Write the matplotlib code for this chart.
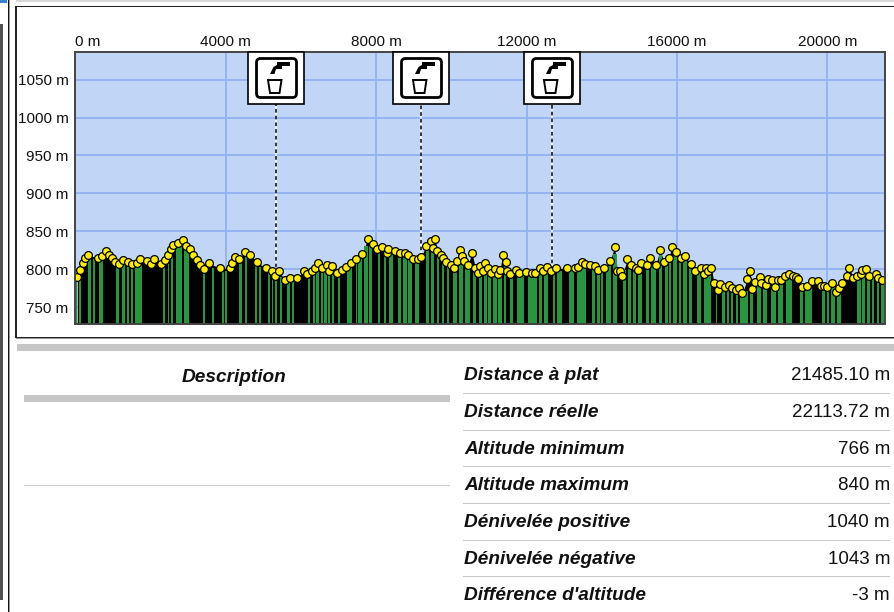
import numpy as np
import matplotlib
matplotlib.use("Agg")
import matplotlib.pyplot as plt
from matplotlib.patches import Rectangle, FancyBboxPatch, Polygon
from matplotlib.transforms import Affine2D

dist = [49,120,191,253,341,607,696,811,900,962,1051,1166,1273,1387,1494,1627,1716,1893,2000,2088,2274,2380,2451,2531,2602,2717,2850,2938,3045,3133,3240,3311,3417,3541,3843,4109,4153,4242,4357,4508,4641,4836,5066,5217,5306,5404,5572,5705,5882,
6077,6148,6281,6370,6458,6547,6680,6751,6831,6946,7079,7194,7327,7460,7620,7771,7921,8010,8143,8276,8320,8497,8631,8763,8852,8985,9118,9189,9322,9446,9499,9561,9623,9712,9783,9845,9978,10075,10155,10235,10279,10341,10430,10545,10634,10696,10767,10838,10900,10971,11051,11157,11246,11290,11361,11450,11467,11556,11707,11795,11981,12132,12221,12354,12442,12531,12638,12771,13063,13284,13355,13480,13550,13684,13817,13887,
14056,14216,14340,14411,14481,14535,14677,14765,14898,14960,15031,15191,15279,15430,15545,15652,15785,15856,15980,16095,16201,16370,16476,16627,16715,16760,16822,16910,16981,17088,17141,17265,17380,17469,17558,17655,17735,17868,17930,18001,18072,18196,18223,18355,18417,18515,18595,18683,18772,18861,18976,19082,19153,19215,19331,19446,19597,19747,19818,19907,19996,20120,20235,20306,20394,20510,20581,20687,20793,20882,20926,21015,21104,21281,21343,21458]
alt = [790,799,808,815,818,815,817,824,819,815,809,807,812,809,807,808,813,811,807,813,807,812,819,826,832,834,838,831,826,819,812,806,800,808,801,801,808,816,813,822,819,809,801,797,791,798,785,788,788,
797,793,798,802,808,801,806,797,804,795,799,803,808,813,820,840,833,826,829,821,827,824,821,821,818,813,813,816,830,837,828,840,824,819,815,809,806,802,811,825,817,811,805,821,802,795,804,797,808,802,795,800,794,799,819,809,797,793,799,795,796,795,795,801,797,803,798,801,801,801,803,810,807,805,804,799,
801,811,829,798,798,791,813,805,802,799,808,805,815,805,825,810,815,829,823,815,817,807,797,802,793,802,797,802,782,773,780,776,779,775,772,775,768,787,798,774,783,790,782,779,787,785,777,786,785,791,793,791,789,787,777,778,784,784,778,778,776,782,770,775,782,791,802,788,791,793,799,800,791,793,788,786]

stripe_start = [13,84,341,474,625,1086,1246,1361,1476,1574,2336,2451,2531,2673,2886,3400,3630,3905,3985,4339,4508,4774,4889,5111,5217,5306,5430,5625,5767,
6184,6308,6396,6521,6609,6716,6822,6973,7212,7460,7522,7682,7806,8037,8205,8347,8586,8701,8852,9029,9322,9464,9606,9739,9872,10031,10208,10359,10581,10740,10864,10980,11095,11246,11396,11556,11751,12026,12327,12469,12691,12815,13134,13329,13728,13861,
13967,14100,14295,14570,14694,14836,14960,15164,15297,15519,15669,15785,15900,16051,16166,16317,16520,16715,17026,17185,17318,17442,17558,17673,17939,18116,18293,18488,18683,18887,19260,19393,19845,19978,20102,20262,20793,20926,21041,21183,21308,21432]
stripe_end = [49,155,403,519,740,1148,1308,1414,1538,1760,2389,2487,2602,2832,3010,3444,3683,3949,4029,4428,4570,4818,4933,5173,5261,5359,5501,5696,5820,
6237,6361,6476,6574,6680,6769,6884,7035,7363,7496,7629,7771,7895,8099,8258,8453,8657,8808,8941,9136,9402,9535,9659,9801,9943,10155,10315,10492,10643,10811,10935,11042,11201,11334,11450,11645,11928,12265,12416,12575,12753,12930,13258,13568,13817,13950,
14038,14233,14411,14650,14783,14898,15075,15253,15430,15607,15758,15847,16006,16113,16254,16405,16644,16910,17070,17265,17380,17496,17620,17886,18027,18240,18400,18621,18825,19065,19357,19597,19924,20040,20191,20368,20882,20988,21130,21237,21379,21503]

waypoints = [5333, 9189, 12672]
x_ticks = [0, 4000, 8000, 12000, 16000, 20000]
y_ticks = [750, 800, 850, 900, 950, 1000, 1050]
x_labels = ["0 m", "4000 m", "8000 m", "12000 m", "16000 m", "20000 m"]
y_labels = ["750 m", "800 m", "850 m", "900 m", "950 m", "1000 m", "1050 m"]

desc_title = "Description"
stat_names = ["Distance à plat", "Distance réelle", "Altitude minimum", "Altitude maximum",
              "Dénivelée positive", "Dénivelée négative", "Différence d'altitude"]
stat_values = ["21485.10 m", "22113.72 m", "766 m", "840 m", "1040 m", "1043 m", "-3 m"]

W, H = 894, 612
fig = plt.figure(figsize=(W/100, H/100), dpi=100, facecolor="white")

# page furniture, in pixel coordinates
bg = fig.add_axes([0, 0, 1, 1])
bg.set_xlim(0, W); bg.set_ylim(H, 0); bg.axis("off")
def rect(x0, y0, x1, y1, c, z=1):
    bg.add_patch(Rectangle((x0, y0), x1-x0, y1-y0, fc=c, ec="none", zorder=z))
rect(0, 0, 7, 3, "#3a7fd0")
rect(16, 0, W, 2, "#d8d8d8")
rect(0, 24, 2.5, 600, "#505050")
rect(7.5, 0, 9, H, "#111111")
rect(9, 0, 10, H, "#999999")
rect(15, 6, W, 7, "#222222")
rect(15, 6, 16.5, 338, "#222222")
rect(15, 337, W, 338, "#222222")
rect(16, 338, W, 339, "#999999")
rect(17, 344, W, 351, "#c6c6c6")
rect(24, 395, 450, 402, "#c6c6c6")
rect(24, 485, 450, 486, "#cccccc")
for y in [392.5, 429.5, 466, 502.5, 539.5, 576]:
    rect(463, y, 890, y+1, "#c8c8c8")

tf = dict(family="Liberation Sans", color="#111111")
bg.text(234.5, 377, desc_title, ha="center", va="center", fontsize=13.7, weight="bold", style="italic", **tf)
rows_y = [376, 412.5, 449.5, 486, 522.5, 559, 595.5]
for yy, n, v in zip(rows_y, stat_names, stat_values):
    bg.text(464, yy, n, ha="left", va="center", fontsize=13.7, weight="bold", style="italic", **tf)
    bg.text(890, yy, v, ha="right", va="center", fontsize=13.5, **tf)

# chart
L, R, T, B = 75, 885, 52, 324
ax = fig.add_axes([L/W, 1-B/H, (R-L)/W, (B-T)/H], facecolor="#c1d6f6")
y0 = 727.6
ax.set_xlim(-13, 21530)
ax.set_ylim(y0, 1086.5)
ax.set_xticks(x_ticks, x_labels, family="Liberation Sans", fontsize=11, color="#111111")
ax.set_yticks(y_ticks, y_labels, family="Liberation Sans", fontsize=11, color="#111111")
ax.tick_params(length=0, top=True, bottom=False, labeltop=True, labelbottom=False)
ax.tick_params(axis="x", pad=2.5)
ax.tick_params(axis="y", pad=4.5)
ax.get_xticklabels()[0].set_ha("left")
ax.grid(True, color="#95b3f2", lw=1.4, zorder=1)
for s in ax.spines.values():
    s.set_color("#444444"); s.set_linewidth(1.4); s.set_zorder(8)

ax.fill_between(dist, alt, y0, color="black", lw=0, zorder=2)
starts, ends = np.array(stripe_start, float), np.array(stripe_end, float)
mid = (starts + ends) / 2
tops = np.interp(mid, dist, alt) - 3.5
ax.bar(starts, tops - y0, width=ends - starts, bottom=y0, align="edge", color="#27963f", lw=0, zorder=3)
ax.plot(dist, alt, ls="none", marker="o", ms=5.6, mfc="#ffee00", mec="black", mew=0.9, zorder=5)

# dashed drop lines and water-point signs
drop_base = np.interp(waypoints, dist, alt)
ax.vlines(waypoints, drop_base, 1086, color="white", lw=1.1, zorder=4)
ax.vlines(waypoints, drop_base, 1086, color="black", lw=1.1,
          linestyles=(0, (2.4, 2.0)), zorder=4)
fig.canvas.draw()
for d in waypoints:
    px, _ = ax.transData.transform((d, 800))
    ptop = ax.transAxes.transform((0, 1))[1]
    t = Affine2D().scale(1, -1).translate(px, ptop)
    add = lambda p: (p.set_transform(t), p.set_clip_on(False), p.set_zorder(7), fig.add_artist(p))
    add(Rectangle((-28, 0), 56, 52, fc="white", ec="black", lw=1.2))
    add(FancyBboxPatch((-19.5, 6.5), 40, 39, boxstyle="round,pad=0,rounding_size=4", fc="white", ec="black", lw=2))
    add(Polygon([(1, 10), (14, 10), (14, 14), (6, 14), (6, 17), (0, 17), (-1.5, 22), (-6, 22), (-2.5, 15), (1, 13)], fc="black", ec="none"))
    add(Polygon([(-8, 28), (5.5, 28), (3.5, 41), (-6, 41)], fc="white", ec="black", lw=1.4))

fig.savefig("out.png", dpi=100)
